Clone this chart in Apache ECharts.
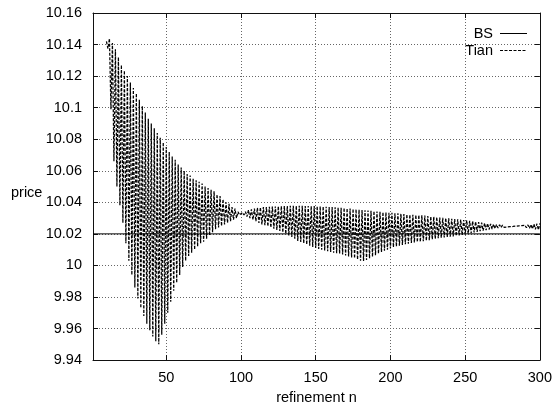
<!DOCTYPE html>
<html>
<head>
<meta charset="utf-8">
<script src="https://cdn.jsdelivr.net/npm/echarts@6/dist/echarts.min.js"></script>
<style>
  html, body { margin: 0; padding: 0; background: #fff; }
  #chart { width: 555px; height: 410px; }
</style>
</head>
<body>
<div id="chart"></div>
<script>
// Option price of the Tian binomial tree versus the Black-Scholes value,
// as the number of refinement steps n grows.

const seriesNames = ['BS', 'Tian'];
const xTitle = 'refinement n';
const yTitle = 'price';

// Axis ranges
const nMin = 1;
const nMax = 300;
const priceMin = 9.94;
const priceMax = 10.16;
const priceStep = 0.02;

// Black-Scholes reference price
const bsPrice = 10.02;

// Tian tree prices, one value per n, in blocks
const tianFrom10 = [
  10.142, 10.1375, 10.1438, 10.099, 10.141, 10.066, 10.137, 10.050, 10.132, 10.038,
  10.127, 10.027, 10.1235, 10.014, 10.120, 10.003, 10.116, 9.994, 10.1125, 9.986,
  10.109, 9.979, 10.105, 9.973, 10.101, 9.968, 10.097, 9.963, 10.093, 9.959,
  10.090, 9.955, 10.087, 9.952, 10.084, 9.950, 10.081, 9.956, 10.078, 9.963,
  10.075, 9.970, 10.072, 9.977, 10.069, 9.984, 10.067, 9.989, 10.064, 9.994
];
const tianFrom60 = [
  10.062, 9.999, 10.060, 10.003, 10.058, 10.006, 10.057, 10.008, 10.055, 10.010,
  10.054, 10.012, 10.053, 10.014, 10.052, 10.015, 10.050, 10.017, 10.049, 10.019,
  10.048, 10.021, 10.047, 10.023, 10.045, 10.024, 10.044, 10.025, 10.042, 10.026,
  10.040, 10.027, 10.039, 10.028, 10.037, 10.029, 10.036, 10.030, 10.034, 10.032,
  10.033, 10.0335, 10.032, 10.034, 10.031, 10.035, 10.030, 10.0355, 10.029, 10.036
];
const tianFrom110 = [
  10.028, 10.0365, 10.027, 10.0368, 10.026, 10.037, 10.0255, 10.037, 10.0248, 10.0372,
  10.024, 10.0373, 10.0233, 10.0374, 10.0225, 10.0375, 10.0218, 10.0376, 10.021, 10.0377,
  10.020, 10.0377, 10.019, 10.0378, 10.018, 10.0378, 10.017, 10.0378, 10.0155, 10.0378,
  10.0148, 10.0378, 10.014, 10.0377, 10.0133, 10.0377, 10.0125, 10.0376, 10.0117, 10.0376,
  10.011, 10.0375, 10.0105, 10.0374, 10.010, 10.0373, 10.0095, 10.0372, 10.009, 10.0371
];
const tianFrom160 = [
  10.0085, 10.037, 10.008, 10.0368, 10.0078, 10.0367, 10.0075, 10.0365, 10.007, 10.0364,
  10.0063, 10.0362, 10.0057, 10.036, 10.005, 10.0358, 10.0045, 10.0356, 10.0038, 10.0354,
  10.003, 10.0352, 10.0028, 10.035, 10.0035, 10.0348, 10.0045, 10.0346, 10.0055, 10.0344,
  10.0065, 10.0342, 10.0075, 10.034, 10.0085, 10.0338, 10.0093, 10.0336, 10.010, 10.0334,
  10.0108, 10.0333, 10.0115, 10.0331, 10.012, 10.033, 10.0125, 10.0328, 10.013, 10.0326
];
const tianFrom210 = [
  10.0134, 10.0324, 10.0138, 10.0322, 10.0142, 10.0321, 10.0145, 10.032, 10.0148, 10.0319,
  10.015, 10.0318, 10.0153, 10.0316, 10.0157, 10.0313, 10.016, 10.031, 10.0165, 10.0308,
  10.0168, 10.0306, 10.0172, 10.0304, 10.0175, 10.0302, 10.0178, 10.030, 10.018, 10.0298,
  10.0182, 10.0296, 10.0184, 10.0294, 10.0187, 10.0292, 10.019, 10.029, 10.0194, 10.0288,
  10.0197, 10.0286, 10.0201, 10.0283, 10.0205, 10.028, 10.0209, 10.0277, 10.0213, 10.0274
];
const tianFrom260 = [
  10.0217, 10.0271, 10.0221, 10.0268, 10.0224, 10.0266, 10.0228, 10.0263, 10.0231, 10.0261,
  10.0234, 10.0259, 10.0237, 10.0257, 10.024, 10.0255, 10.0242, 10.0253, 10.0244, 10.0251,
  10.0246, 10.0249, 10.0247, 10.0248, 10.0249, 10.0245, 10.0251, 10.0243, 10.0253, 10.0241,
  10.0255, 10.0239, 10.0257, 10.0236, 10.0259, 10.0232, 10.0262, 10.0229, 10.0264, 10.0226,
  10.0266
];

const tianBlocks = [
  [10, tianFrom10], [60, tianFrom60], [110, tianFrom110],
  [160, tianFrom160], [210, tianFrom210], [260, tianFrom260]
];

const tianData = [];
tianBlocks.forEach(([startN, prices]) => {
  prices.forEach((p, i) => tianData.push([startN + i, p]));
});
const bsData = [[nMin, bsPrice], [nMax, bsPrice]];

const font = 'Liberation Sans, Arial, Helvetica, sans-serif';
const fontSize = 14.5;
const tianDash = [3, 1.5];
const gridLine = { show: true, lineStyle: { color: '#666', width: 1, type: [1, 2] } };
const borderLine = { show: true, lineStyle: { color: '#111', width: 1 } };
const innerTick = { show: true, inside: true, length: 5, lineStyle: { color: '#111', width: 1 } };

// Key in the upper right corner: right-aligned names, line samples after them
const keyRows = [
  { name: seriesNames[0], y: 33.5, dash: null },
  { name: seriesNames[1], y: 50.5, dash: tianDash }
];
const keyGraphics = [];
keyRows.forEach(row => {
  keyGraphics.push({
    type: 'text', x: 493, y: row.y,
    style: { text: row.name, font: fontSize + 'px ' + font, fill: '#000', align: 'right', verticalAlign: 'middle' }
  });
  keyGraphics.push({
    type: 'line', shape: { x1: 500, y1: row.y, x2: 527, y2: row.y },
    style: { stroke: '#000', lineWidth: 1, lineDash: row.dash }
  });
});

const chart = echarts.init(document.getElementById('chart'), null, { renderer: 'canvas' });

chart.setOption({
  animation: false,
  backgroundColor: '#fff',
  grid: { left: 93, right: 13, top: 13, bottom: 48, containLabel: false },
  xAxis: [
    {
      type: 'value', min: nMin, max: nMax,
      name: xTitle, nameLocation: 'middle', nameGap: 26,
      nameTextStyle: { fontFamily: font, fontSize: fontSize, color: '#000' },
      axisLine: borderLine, axisTick: innerTick, splitLine: gridLine,
      axisLabel: {
        fontFamily: font, fontSize: fontSize, color: '#000', margin: 10,
        formatter: v => (v % 50 === 0 ? String(v) : '')
      }
    },
    {
      type: 'value', min: nMin, max: nMax, position: 'top',
      axisLine: borderLine, axisTick: innerTick, splitLine: { show: false },
      axisLabel: { show: false }
    }
  ],
  yAxis: [
    {
      type: 'value', min: priceMin, max: priceMax, interval: priceStep,
      axisLine: borderLine, axisTick: innerTick, splitLine: gridLine,
      axisLabel: { fontFamily: font, fontSize: fontSize, color: '#000', margin: 11 }
    },
    {
      type: 'value', min: priceMin, max: priceMax, interval: priceStep, position: 'right',
      axisLine: borderLine, axisTick: innerTick, splitLine: { show: false },
      axisLabel: { show: false }
    }
  ],
  graphic: [
    {
      type: 'text', left: 11, top: 185,
      style: { text: yTitle, font: fontSize + 'px ' + font, fill: '#000' }
    }
  ].concat(keyGraphics),
  series: [
    {
      name: seriesNames[1], type: 'line', data: tianData,
      showSymbol: false, symbol: 'none', clip: true, z: 2,
      lineStyle: { color: '#000', width: 1.25, type: tianDash }
    },
    {
      name: seriesNames[0], type: 'line', data: bsData,
      showSymbol: false, symbol: 'none', clip: true, z: 3,
      lineStyle: { color: '#000', width: 1, type: 'solid' }
    }
  ]
});
</script>
</body>
</html>
